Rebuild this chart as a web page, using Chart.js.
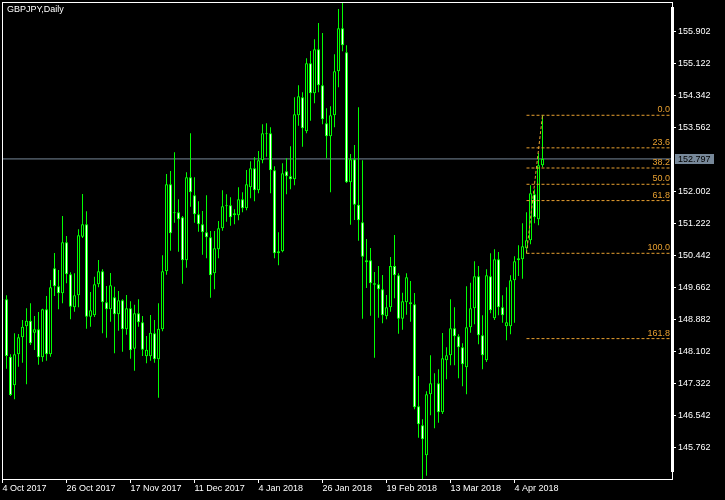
<!DOCTYPE html>
<html>
<head>
<meta charset="utf-8">
<script src="https://cdn.jsdelivr.net/npm/chart.js@4.4.1/dist/chart.umd.min.js"></script>
<style>
  html, body { margin: 0; padding: 0; background: #000; }
  #wrap { width: 725px; height: 500px; }
</style>
</head>
<body>
<div id="wrap"><canvas id="chart" width="725" height="500"></canvas></div>
<script>
const chartTitle = 'GBPJPY,Daily';

// Daily bars, first one (4 Oct 2017) is mostly hidden behind the left edge
const opens = [
  149.367, 149.372, 147.972, 147.274, 148.030, 148.445, 148.713, 148.850, 148.557, 148.640,
  147.957, 149.128, 148.030, 150.128, 149.689, 149.518, 150.763, 149.982, 149.177, 149.470,
  150.900, 151.202, 148.948, 148.982, 149.738, 150.055, 149.299, 149.128, 149.421, 149.006,
  149.348, 148.640, 149.152, 148.167, 149.030, 148.811, 147.981, 147.981, 148.542, 147.908,
  148.640, 150.055, 152.178, 151.470, 151.495, 151.373, 150.324, 152.349, 151.910, 151.446,
  151.202, 151.007, 150.885, 150.006, 150.592, 151.104, 151.641, 151.666, 151.422, 151.422,
  151.812, 151.592, 152.105, 152.568, 152.032, 152.764, 153.398, 153.422, 152.520, 150.494,
  150.543, 152.495, 152.373, 152.300, 153.862, 154.301, 153.471, 155.130, 154.398, 155.472,
  154.594, 153.666, 153.349, 153.862, 154.935, 155.984, 155.399, 152.227, 152.788, 151.680,
  151.251, 150.275, 150.324, 149.762, 149.738, 149.616, 148.957, 149.177, 150.185, 149.958,
  148.899, 149.299, 149.299, 149.250, 146.761, 146.298, 145.566, 147.054, 147.322, 147.322,
  146.615, 147.884, 148.006, 148.664, 148.469, 148.201, 147.713, 148.689, 149.152, 149.933,
  148.494, 147.884, 149.933, 148.908, 150.348, 149.177, 148.713, 148.713, 149.836, 150.324,
  150.348, 150.616, 150.812, 151.934, 151.324, 152.642
];
const highs = [
  149.453, 149.470, 148.030, 148.542, 148.525, 148.867, 149.152, 149.274, 148.965, 149.062,
  149.143, 149.453, 149.843, 150.502, 150.087, 151.405, 150.917, 150.031, 150.006, 151.080,
  151.941, 151.519, 149.550, 149.924, 150.331, 150.104, 149.697, 150.014, 149.680, 149.575,
  149.372, 149.477, 149.323, 149.240, 149.372, 148.965, 148.477, 148.989, 148.867, 149.274,
  150.446, 152.429, 152.503, 152.959, 151.812, 151.405, 152.471, 153.422, 152.349, 151.763,
  151.527, 151.910, 151.039, 151.039, 151.283, 152.032, 151.934, 151.861, 151.568, 152.105,
  151.983, 152.527, 152.739, 152.837, 152.991, 153.642, 153.666, 153.569, 152.617, 151.007,
  152.690, 152.812, 153.105, 154.301, 154.594, 154.423, 155.252, 155.431, 155.716, 156.114,
  155.870, 154.032, 154.081, 155.350, 156.455, 156.609, 155.570, 152.917, 153.137, 154.057,
  152.764, 150.843, 150.624, 150.038, 150.185, 149.965, 149.477, 150.404, 150.941, 150.006,
  149.533, 150.006, 149.819, 149.526, 147.501, 146.444, 147.127, 148.006, 147.566, 147.664,
  148.550, 148.201, 149.372, 149.177, 148.518, 148.298, 149.689, 149.777, 150.299, 150.185,
  148.982, 150.104, 150.494, 150.592, 150.526, 149.470, 149.665, 149.958, 150.421, 150.690,
  151.227, 151.495, 152.154, 152.056, 152.934, 153.862
];
const lows = [
  149.282, 147.679, 147.013, 146.932, 147.728, 147.825, 147.298, 148.257, 148.135, 147.776,
  147.850, 147.874, 147.972, 149.453, 149.128, 149.274, 149.762, 148.884, 149.070, 149.177,
  150.868, 148.655, 148.704, 148.940, 149.665, 148.542, 148.435, 148.826, 148.054, 148.606,
  148.094, 148.508, 147.923, 147.630, 148.704, 147.989, 147.810, 147.874, 147.825, 146.971,
  148.591, 149.972, 150.558, 151.241, 150.534, 149.753, 150.143, 151.632, 151.241, 151.022,
  150.460, 150.372, 149.411, 149.616, 150.372, 151.046, 151.266, 151.168, 151.202, 151.300,
  151.495, 151.544, 151.836, 151.763, 151.958, 152.690, 152.852, 151.958, 150.372, 150.202,
  150.519, 151.934, 152.056, 152.154, 153.608, 153.096, 153.422, 153.730, 154.154, 154.423,
  153.642, 152.812, 151.983, 153.569, 154.545, 155.423, 152.210, 151.192, 151.307, 150.802,
  148.899, 149.648, 148.972, 147.947, 148.923, 148.786, 148.884, 149.070, 149.396, 148.533,
  148.630, 148.996, 148.826, 146.688, 145.995, 144.990, 145.068, 146.542, 146.224, 146.361,
  146.573, 147.420, 147.762, 147.762, 147.444, 147.249, 147.054, 148.557, 148.762, 148.274,
  147.664, 147.842, 149.030, 148.867, 148.982, 148.801, 148.372, 148.518, 148.801, 149.941,
  149.875, 150.494, 150.714, 151.227, 151.178, 152.593
];
const closes = [
  149.379, 147.989, 147.037, 148.030, 148.445, 148.704, 148.850, 148.298, 148.640, 147.957,
  149.128, 148.030, 149.665, 149.689, 149.518, 150.763, 149.982, 149.192, 149.470, 150.934,
  151.202, 148.948, 149.104, 149.738, 150.055, 149.299, 149.128, 149.714, 149.006, 149.348,
  148.640, 149.152, 148.128, 149.030, 148.811, 148.142, 148.142, 148.557, 147.908, 148.655,
  150.055, 152.178, 150.982, 151.495, 151.324, 150.324, 152.349, 151.983, 151.446, 151.202,
  151.007, 150.885, 149.958, 150.616, 151.104, 151.641, 151.666, 151.373, 151.470, 151.812,
  151.592, 152.178, 152.568, 152.032, 152.764, 153.422, 153.422, 152.520, 150.494, 150.543,
  152.446, 152.373, 152.300, 153.886, 154.325, 153.544, 155.130, 154.398, 155.472, 154.594,
  153.764, 153.349, 153.862, 154.935, 155.984, 155.570, 152.227, 152.788, 151.680, 151.300,
  150.412, 150.324, 149.762, 149.728, 149.616, 148.982, 149.177, 150.185, 149.958, 148.899,
  149.323, 149.909, 149.250, 146.737, 146.322, 145.956, 147.054, 147.322, 147.330, 146.615,
  147.932, 148.006, 148.664, 148.469, 148.201, 147.786, 148.689, 149.152, 149.933, 148.494,
  148.006, 149.958, 149.104, 150.348, 149.177, 148.982, 148.811, 149.836, 150.299, 150.372,
  150.665, 150.812, 151.958, 151.373, 152.642, 152.797
];

const lastPrice = 152.797;
const priceTicks = [145.762, 146.542, 147.322, 148.102, 148.882, 149.662, 150.442,
                    151.222, 152.002, 153.562, 154.342, 155.122, 155.902];
const dateTickBars = [0, 16, 32, 48, 64, 80, 96, 112, 128];
const dateTickLabels = ['4 Oct 2017', '26 Oct 2017', '17 Nov 2017', '11 Dec 2017', '4 Jan 2018',
                        '26 Jan 2018', '19 Feb 2018', '13 Mar 2018', '4 Apr 2018'];

// Fibonacci retracement: from the low of bar 131 to the high of bar 135
const fibFromBar = 131;
const fibToBar = 135;
const fibLevels = [0, 23.6, 38.2, 50, 61.8, 100, 161.8];

const X_MIN = -0.125;
const X_MAX = 167.375;
const Y_MIN = 144.987;
const Y_MAX = 156.626;

const LIME = '#00ff00';
const ORANGE = '#e8a030';
const SLATE = '#778899';

Chart.defaults.font.family = 'Liberation Sans, Arial, sans-serif';
Chart.defaults.font.size = 9;
Chart.defaults.color = '#ffffff';

const fibLow = lows[fibFromBar];
const fibHigh = highs[fibToBar];
const fibPrice = lvl => fibHigh - (fibHigh - fibLow) * lvl / 100;

const bodies = opens.map((o, i) => ({ x: i, y: [o, closes[i]] }));
const wicks = lows.map((l, i) => ({ x: i, y: [l, highs[i]] }));
const bodyFill = opens.map((o, i) => closes[i] < o ? '#ffffff' : '#000000');

const fibDatasets = fibLevels.map(lvl => ({
    type: 'line',
    data: [{ x: fibFromBar, y: fibPrice(lvl) }, { x: X_MAX, y: fibPrice(lvl) }],
    borderColor: ORANGE,
    borderWidth: 1,
    borderDash: [3, 2],
    pointRadius: 0,
    order: 0
}));

const frameAndLabels = {
    id: 'frameAndLabels',
    afterDraw(chart) {
        const ctx = chart.ctx;
        const area = chart.chartArea;
        const y = chart.scales.y;
        ctx.save();

        // frame
        ctx.strokeStyle = '#ffffff';
        ctx.lineWidth = 1;
        ctx.strokeRect(area.left + 0.5, area.top + 0.5, area.right - area.left, area.bottom - area.top);
        ctx.fillStyle = '#ffffff';
        ctx.fillRect(area.right - 1, 7, 3, 465);

        // title
        ctx.font = '9px Liberation Sans';
        ctx.textBaseline = 'top';
        ctx.textAlign = 'left';
        ctx.fillText(chartTitle, 7, 5);

        // fib labels
        ctx.fillStyle = ORANGE;
        ctx.textAlign = 'right';
        ctx.textBaseline = 'alphabetic';
        fibLevels.forEach(lvl => {
            ctx.fillText(lvl.toFixed(1), area.right - 2, y.getPixelForValue(fibPrice(lvl)) - 3);
        });

        // last price box
        const py = y.getPixelForValue(lastPrice);
        ctx.fillStyle = SLATE;
        ctx.fillRect(area.right + 3, Math.round(py) - 5, 39, 10);
        ctx.fillStyle = '#000000';
        ctx.textAlign = 'left';
        ctx.textBaseline = 'middle';
        ctx.fillText(lastPrice.toFixed(3), area.right + 6, Math.round(py) + 0.5);
        ctx.restore();
    }
};

new Chart(document.getElementById('chart'), {
    type: 'bar',
    data: {
        datasets: [
            ...fibDatasets,
            {
                type: 'line',
                data: [{ x: fibFromBar, y: fibLow }, { x: fibToBar, y: fibHigh }],
                borderColor: ORANGE,
                borderWidth: 1,
                borderDash: [3, 2],
                pointRadius: 0,
                order: 0
            },
            {
                data: bodies,
                backgroundColor: bodyFill,
                borderColor: LIME,
                borderWidth: 1,
                borderSkipped: false,
                barThickness: 3,
                inflateAmount: 0,
                grouped: false,
                order: 1
            },
            {
                data: wicks,
                backgroundColor: LIME,
                borderWidth: 0,
                barThickness: 1,
                inflateAmount: 0,
                grouped: false,
                order: 2
            },
            {
                type: 'line',
                data: [{ x: X_MIN, y: lastPrice }, { x: X_MAX, y: lastPrice }],
                borderColor: SLATE,
                borderWidth: 1,
                pointRadius: 0,
                order: 3
            }
        ]
    },
    options: {
        responsive: false,
        animation: false,
        layout: { padding: { left: 2, top: 2, right: 0, bottom: 0 } },
        plugins: {
            legend: { display: false },
            tooltip: { enabled: false }
        },
        scales: {
            x: {
                type: 'linear',
                min: X_MIN,
                max: X_MAX,
                offset: false,
                grid: { display: true, offset: false, drawOnChartArea: false, drawTicks: true, tickLength: 4, color: '#ffffff' },
                border: { display: true, color: '#ffffff', width: 1 },
                ticks: {
                    autoSkip: false,
                    maxRotation: 0,
                    align: 'start',
                    padding: 0,
                    color: '#ffffff',
                    callback: (v, i) => dateTickLabels[i]
                },
                afterBuildTicks: s => { s.ticks = dateTickBars.map(v => ({ value: v })); },
                afterFit: s => { s.height = 21; s.paddingLeft = 0; s.paddingRight = 0; }
            },
            y: {
                position: 'right',
                min: Y_MIN,
                max: Y_MAX,
                grid: { display: true, drawOnChartArea: false, drawTicks: true, tickLength: 4, color: '#ffffff' },
                border: { display: true, color: '#ffffff', width: 1 },
                ticks: {
                    autoSkip: false,
                    padding: 2,
                    color: '#ffffff',
                    callback: v => v.toFixed(3)
                },
                afterBuildTicks: s => { s.ticks = priceTicks.map(v => ({ value: v })); },
                afterFit: s => { s.width = 53; s.paddingTop = 0; s.paddingBottom = 0; }
            }
        }
    },
    plugins: [frameAndLabels]
});
</script>
</body>
</html>
